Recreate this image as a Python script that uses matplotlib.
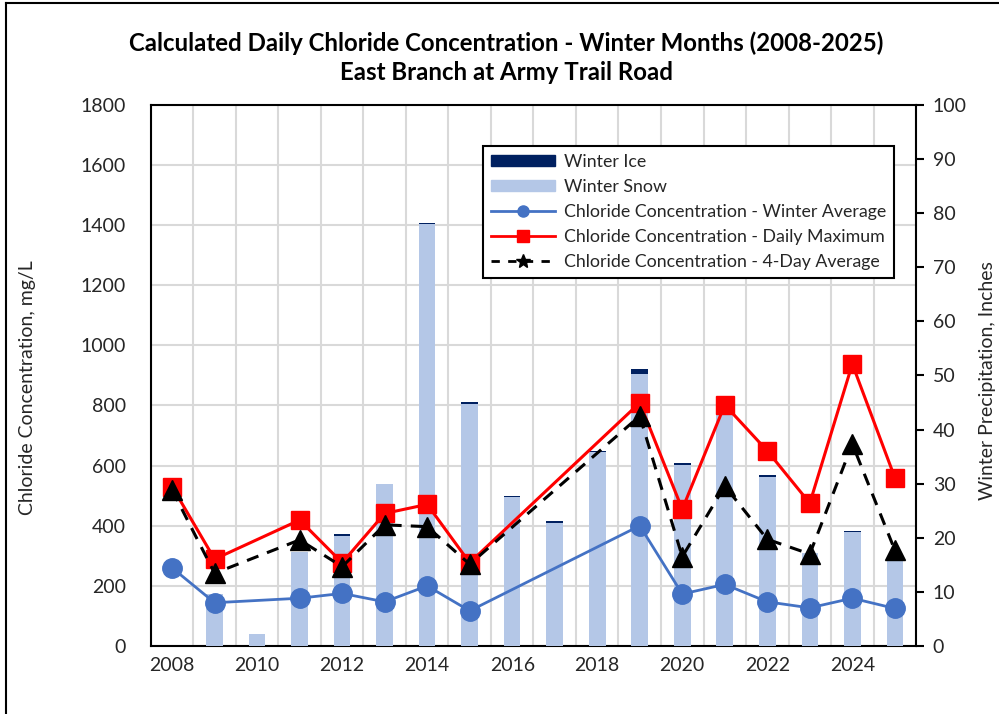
import numpy as np
import matplotlib.pyplot as plt
from matplotlib.lines import Line2D
from matplotlib.patches import Patch

plt.rcParams['font.family'] = ['Lato', 'DejaVu Sans']

# precipitation (inches) per winter
years = np.arange(2008, 2026)
snow = [0, 9.6, 2.2, 17.4, 20.4, 29.9, 77.9, 44.7, 27.5, 22.8, 35.9, 50.3, 33.4, 43.5, 31.3, 17.2, 21.0, 16.5]
ice = [0, 0, 0, 0, 0.3, 0, 0.3, 0.3, 0.3, 0.3, 0.2, 0.8, 0.4, 0, 0.3, 0, 0.3, 0]

# chloride (mg/L) - only the years with data
cl_years = [2008, 2009, 2011, 2012, 2013, 2014, 2015, 2019, 2020, 2021, 2022, 2023, 2024, 2025]
winter_avg = [260, 144, 159, 175, 147, 200, 117, 400, 173, 205, 147, 127, 159, 125]
daily_max = [530, 289, 419, 277, 441, 471, 277, 809, 455, 802, 649, 475, 938, 560]
four_day = [519, 242, 353, 264, 403, 397, 272, 765, 297, 532, 355, 306, 672, 319]

fig = plt.figure(figsize=(9.99, 7.14), dpi=100)
ax = fig.add_axes([0.151, 0.0952, 0.766, 0.758])

# grid + left axis
ax.set_xlim(2007.5, 2025.5)
ax.set_ylim(0, 1800)
ax.set_yticks(range(0, 1801, 200))
ax.set_xticks(range(2008, 2026, 2))
ax.set_xticks(np.arange(2007.5, 2026, 1), minor=True)
ax.grid(which='minor', axis='x', color='#d9d9d9', lw=1.5)
ax.grid(which='major', axis='y', color='#d9d9d9', lw=1.5)
ax.tick_params(which='both', length=0, labelsize=14, colors='#262626')
ax.tick_params(axis='y', pad=18)
ax.tick_params(axis='x', pad=8)
ax.set_ylabel('Chloride Concentration, mg/L', fontsize=14, color='#262626')
ax.yaxis.set_label_coords(-0.150, 0.477)
ax.set_axisbelow(True)
for s in ax.spines.values():
    s.set_color('black')
    s.set_linewidth(1.5)

# bars on the right axis
ax2 = ax.twinx()
ax2.bar(years, snow, width=0.39, color='#b4c7e7', label='Winter Snow')
ax2.bar(years, ice, width=0.39, bottom=snow, color='#002060', label='Winter Ice')
ax2.set_ylim(0, 100)
ax2.set_yticks(range(0, 101, 10))
ax2.tick_params(axis='y', direction='out', length=6, width=1.5, labelsize=14, colors='black',
                labelcolor='#262626', pad=6)
ax2.set_ylabel('Winter Precipitation, Inches', fontsize=14, color='#262626')
ax2.yaxis.set_label_coords(1.082, 0.49)
for s in ax2.spines.values():
    s.set_visible(False)

# lines on top
ax3 = ax.twinx()
ax3.set_ylim(0, 1800)
ax3.axis('off')
ax3.plot(cl_years, winter_avg, color='#4472c4', lw=2, marker='o', ms=14)
ax3.plot(cl_years, daily_max, color='#ff0000', lw=2.2, marker='s', ms=13)
ax3.plot(cl_years, four_day, color='black', lw=2.2, ls=(0, (4, 3)), marker='^', ms=15)

handles = [
    Patch(color='#002060', label='Winter Ice'),
    Patch(color='#b4c7e7', label='Winter Snow'),
    Line2D([], [], color='#4472c4', lw=2, marker='o', ms=8, label='Chloride Concentration - Winter Average'),
    Line2D([], [], color='#ff0000', lw=2, marker='s', ms=8, label='Chloride Concentration - Daily Maximum'),
    Line2D([], [], color='black', lw=2, ls=(0, (3, 3)), marker='*', ms=10, label='Chloride Concentration - 4-Day Average'),
]
leg = ax3.legend(handles=handles, loc='upper right', bbox_to_anchor=(0.904, 0.808),
                 bbox_transform=fig.transFigure, fontsize=12.8, frameon=True, fancybox=False,
                 edgecolor='black', handlelength=3.6, handleheight=0.6, labelspacing=0.5,
                 handletextpad=0.5, borderpad=0.45, framealpha=1)
leg.get_frame().set_linewidth(1.5)
for t in leg.get_texts():
    t.set_color('#262626')

fig.text(0.507, 0.94, 'Calculated Daily Chloride Concentration - Winter Months (2008-2025)',
         ha='center', va='center', fontsize=17.3, fontweight='bold')
fig.text(0.507, 0.898, 'East Branch at Army Trail Road',
         ha='center', va='center', fontsize=17.3, fontweight='bold')

# outer chart frame
fig.add_artist(Line2D([0.006, 0.006], [0, 0.996], color='black', lw=1.5, transform=fig.transFigure))
fig.add_artist(Line2D([0.006, 1], [0.996, 0.996], color='black', lw=1.5, transform=fig.transFigure))

fig.savefig('out.png', dpi=100)
